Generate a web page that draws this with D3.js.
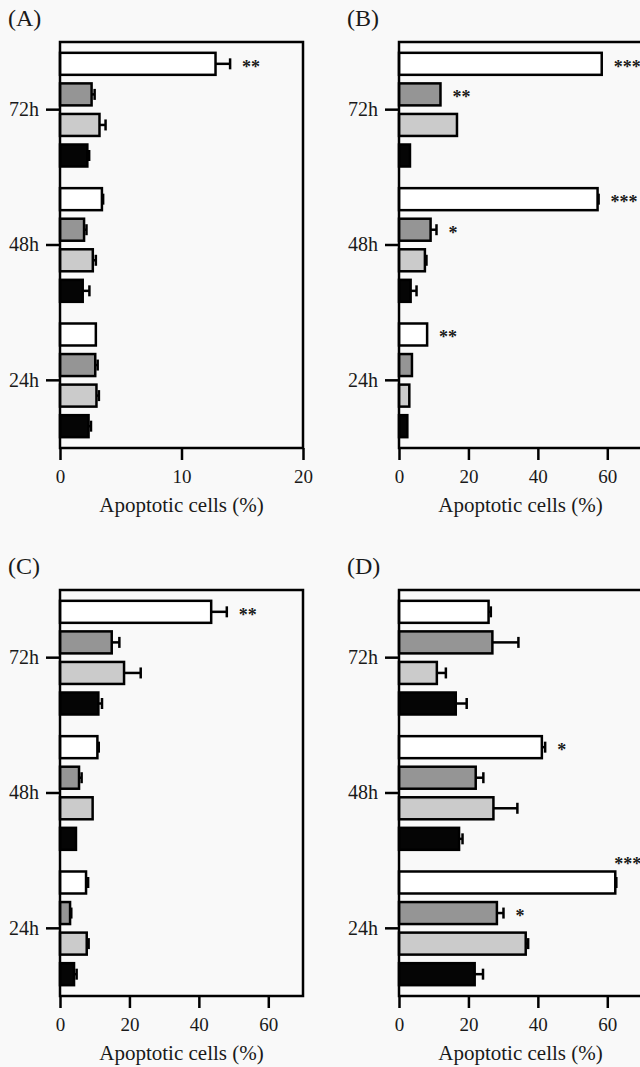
<!DOCTYPE html>
<html>
<head>
<meta charset="utf-8">
<script src="https://cdn.jsdelivr.net/npm/d3@7"></script>
<style>
  html, body { margin: 0; padding: 0; background: #f9f9f9; overflow: hidden; }
  svg { display: block; }
  text { font-family: "Liberation Serif", "Times New Roman", serif; fill: #1a1a1a; }
</style>
</head>
<body>
<div id="chart"></div>
<script>
// groups top to bottom, and the four bars inside each group (top to bottom)
const groups = ['72h', '48h', '24h']
const seriesKeys = ['open', 'dark', 'light', 'solid']
const seriesFill = ['#ffffff', '#959595', '#cbcbcb', '#050505']

// panel A
const valuesA = [[12.8, 2.6, 3.25, 2.25], [3.45, 1.98, 2.7, 1.87], [2.95, 2.9, 3.0, 2.35]]
const errorsA = [[1.2, 0.25, 0.5, 0.15], [0.1, 0.2, 0.25, 0.55], [0, 0.2, 0.2, 0.2]]
const starsA = [['**', '', '', ''], ['', '', '', ''], ['', '', '', '']]
const ticksA = [0, 10, 20]

// panel B
const valuesB = [[58.4, 11.95, 16.7, 3.16], [57.2, 9.1, 7.46, 3.35], [8.1, 3.73, 2.97, 2.4]]
const errorsB = [[0, 0, 0, 0], [0.3, 1.7, 0.45, 1.7], [0, 0, 0, 0]]
const starsB = [['***', '**', '', ''], ['***', '*', '', ''], ['**', '', '', '']]
const ticksB = [0, 20, 40, 60]

// panel C
const valuesC = [[43.55, 14.9, 18.45, 11.05], [10.77, 5.48, 9.4, 4.6], [7.5, 2.9, 7.7, 4.04]]
const errorsC = [[4.5, 2.2, 4.8, 1.05], [0.4, 0.75, 0, 0], [0.6, 0.35, 0.55, 0.75]]
const starsC = [['**', '', '', ''], ['', '', '', ''], ['', '', '', '']]
const ticksC = [0, 20, 40, 60]

// panel D
const valuesD = [[25.8, 26.9, 10.9, 16.35], [41.15, 22.1, 27.2, 17.3], [62.3, 28.2, 36.5, 21.8]]
const errorsD = [[0.65, 7.5, 2.6, 3.15], [0.95, 2.2, 6.9, 1.0], [0.3, 1.9, 0.7, 2.4]]
const starsD = [['', '', '', ''], ['*', '', '', ''], ['***', '*', '', '']]
const ticksD = [0, 20, 40, 60]

const xTitle = 'Apoptotic cells (%)'

const panels = [
  { label: '(A)', values: valuesA, errors: errorsA, stars: starsA, max: 20, ticks: ticksA, col: 0, row: 0 },
  { label: '(B)', values: valuesB, errors: errorsB, stars: starsB, max: 70, ticks: ticksB, col: 1, row: 0 },
  { label: '(C)', values: valuesC, errors: errorsC, stars: starsC, max: 70, ticks: ticksC, col: 0, row: 1 },
  { label: '(D)', values: valuesD, errors: errorsD, stars: starsD, max: 70, ticks: ticksD, col: 1, row: 1 }
]

const W = 640, H = 1067
const plotW = 243, plotH = 406
const colX = [60, 399], rowY = [42, 590]
const lw = 2.5

const svg = d3.select('#chart').append('svg')
  .attr('width', W)
  .attr('height', H)

panels.forEach(drawPanel)

function drawPanel(p) {
  const left = colX[p.col], top = rowY[p.row]
  const g = svg.append('g').attr('transform', `translate(${left},${top})`)

  const x = d3.scaleLinear().domain([0, p.max]).range([0, plotW])
  const y = d3.scaleBand().domain(groups).range([0, plotH]).paddingInner(0.16).paddingOuter(0.08)
  const yInner = d3.scaleBand().domain(seriesKeys).range([0, y.bandwidth()]).paddingInner(0.28)

  // panel letter
  g.append('text')
    .attr('x', -52)
    .attr('y', -16)
    .style('font-size', '24px')
    .text(p.label)

  // one entry per bar
  const bars = []
  groups.forEach((grp, gi) => {
    seriesKeys.forEach((key, si) => {
      bars.push({ grp, key, si, v: p.values[gi][si], e: p.errors[gi][si], star: p.stars[gi][si] })
    })
  })
  const yPos = d => y(d.grp) + yInner(d.key)
  const bh = yInner.bandwidth()

  // error bars first so the bar outline sits on top
  const eb = g.selectAll('.err').data(bars.filter(d => d.e > 0)).join('g').attr('class', 'err')
  eb.append('line')
    .attr('x1', d => x(d.v)).attr('x2', d => x(d.v + d.e))
    .attr('y1', d => yPos(d) + bh / 2).attr('y2', d => yPos(d) + bh / 2)
    .attr('stroke', '#000').attr('stroke-width', lw)
  eb.append('line')
    .attr('x1', d => x(d.v + d.e)).attr('x2', d => x(d.v + d.e))
    .attr('y1', d => yPos(d) + bh / 2 - 5.5).attr('y2', d => yPos(d) + bh / 2 + 5.5)
    .attr('stroke', '#000').attr('stroke-width', lw)

  g.selectAll('.bar').data(bars).join('rect')
    .attr('class', 'bar')
    .attr('x', 0)
    .attr('y', yPos)
    .attr('width', d => x(d.v))
    .attr('height', bh)
    .attr('fill', d => seriesFill[d.si])
    .attr('stroke', '#000')
    .attr('stroke-width', lw)

  // significance marks
  g.selectAll('.star').data(bars.filter(d => d.star)).join('text')
    .attr('class', 'star')
    .style('font-size', '18px')
    .style('font-weight', 'bold')
    .each(function (d) {
      const end = x(d.v + d.e)
      const textW = d.star.length * 9
      const t = d3.select(this).text(d.star)
      if (end + 12 + textW > plotW) {
        // no room beside the bar: sit above its end
        t.attr('x', end - 2).attr('y', yPos(d) - 1)
      } else {
        t.attr('x', end + 12).attr('y', yPos(d) + bh / 2 + 9)
      }
    })

  // frame
  g.append('rect')
    .attr('width', plotW).attr('height', plotH)
    .attr('fill', 'none').attr('stroke', '#000').attr('stroke-width', lw)

  // x axis
  const xAxis = g.append('g')
    .attr('transform', `translate(0,${plotH})`)
    .call(d3.axisBottom(x).tickValues(p.ticks).tickSize(12).tickPadding(10).tickFormat(d3.format('d')))
  xAxis.select('.domain').remove()
  xAxis.selectAll('line').attr('stroke', '#000').attr('stroke-width', lw)
  xAxis.selectAll('text').style('font-size', '19px').attr('fill', '#1a1a1a')

  // y axis: one tick per time point
  const yAxis = g.append('g')
    .call(d3.axisLeft(y).tickSize(14).tickPadding(7))
  yAxis.select('.domain').remove()
  yAxis.selectAll('line').attr('stroke', '#000').attr('stroke-width', lw)
  yAxis.selectAll('text').style('font-size', '20px').attr('fill', '#1a1a1a')

  g.append('text')
    .attr('x', plotW / 2)
    .attr('y', plotH + 64)
    .attr('text-anchor', 'middle')
    .style('font-size', '21px')
    .text(xTitle)
}
</script>
</body>
</html>
